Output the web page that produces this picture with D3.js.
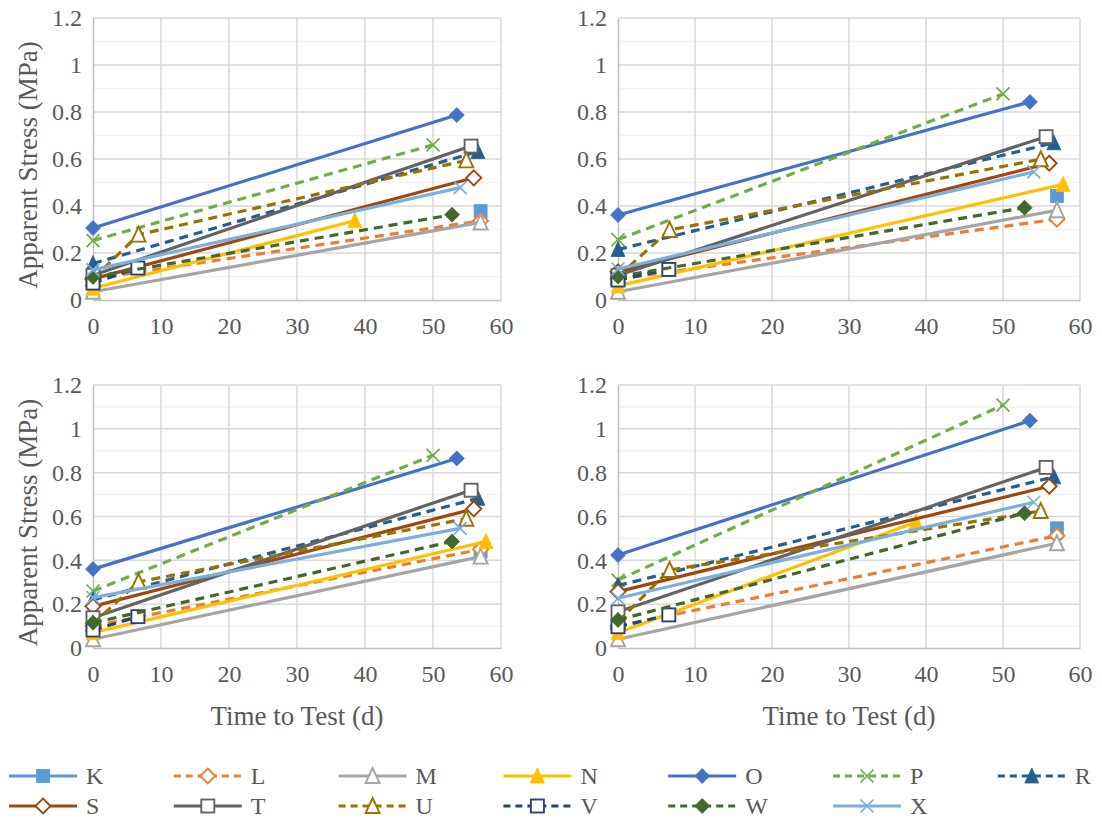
<!DOCTYPE html>
<html><head><meta charset="utf-8">
<script src="https://cdn.jsdelivr.net/npm/d3@7"></script>
<style>
html,body{margin:0;padding:0;background:#fff;}
svg{display:block;}
</style></head>
<body>
<svg id="chart" width="1102" height="820"></svg>
<script>
// ---------- DATA ----------
const seriesNames = ["K","L","M","N","O","P","R","S","T","U","V","W","X"];
const xTicks = [0,10,20,30,40,50,60];
const yTicks = [0,0.2,0.4,0.6,0.8,1,1.2];
const yTickLabels = ["0","0.2","0.4","0.6","0.8","1","1.2"];
const xTitle = "Time to Test (d)";
const yTitle = "Apparent Stress (MPa)";

// times (d) per series; values per panel [top-left, top-right, bottom-left, bottom-right]
const K_time = [57];
const K_vals = [[0.378],[0.443],[0.44],[0.546]];
const L_time = [0, 57];
const L_vals = [[0.09,0.337],[0.09,0.344],[0.10,0.45],[0.10,0.512]];
const M_time = [0, 57];
const M_vals = [[0.035,0.33],[0.035,0.382],[0.04,0.417],[0.04,0.478]];
const N_time = [[0,38.5],[0,57.8],[0,57.8],[0,38.7]];
const N_vals = [[0.05,0.337],[0.06,0.492],[0.07,0.486],[0.07,0.575]];
const O_time = [0, 53.5];
const O_vals = [[0.306,0.787],[0.362,0.843],[0.36,0.865],[0.424,1.037]];
const P_time = [0, 50];
const P_vals = [[0.253,0.66],[0.257,0.877],[0.26,0.879],[0.31,1.108]];
const R_time = [0, 56.6];
const R_vals = [[0.155,0.632],[0.215,0.669],[0.22,0.683],[0.285,0.781]];
const S_time = [0, 56];
const S_vals = [[0.09,0.52],[0.12,0.582],[0.19,0.635],[0.257,0.738]];
const T_time = [0, 55.6];
const T_vals = [[0.105,0.655],[0.105,0.695],[0.138,0.72],[0.165,0.824]];
const U_time = [0, 6.7, 54.9];
const U_vals = [[0.09,0.278,0.594],[0.10,0.298,0.599],[0.11,0.302,0.59],[0.12,0.356,0.625]];
const V_time = [0, 6.6];
const V_vals = [[0.072,0.136],[0.085,0.13],[0.082,0.143],[0.097,0.151]];
const W_time = [0, 52.8];
const W_vals = [[0.098,0.363],[0.10,0.393],[0.115,0.486],[0.128,0.615]];
const X_time = [0, 54];
const X_vals = [[0.128,0.478],[0.132,0.545],[0.23,0.546],[0.227,0.665]];

// ---------- STYLE ----------
const FONT = "'Liberation Serif','Times New Roman',serif";
const TXT = "#595959";
const colors = {K:"#5B9BD5",L:"#ED7D31",M:"#A5A5A5",N:"#FFC000",O:"#4472C4",P:"#70AD47",R:"#255E91",
  S:"#9E480E",T:"#636363",U:"#997300",V:"#264478",W:"#43682B",X:"#7CAFDD"};
const dashed = {K:false,L:true,M:false,N:false,O:false,P:true,R:true,S:false,T:false,U:true,V:true,W:true,X:false};
const markers = {K:"square",L:"diamondOpen",M:"triangleOpen",N:"triangle",O:"diamond",P:"x",R:"triangle",
  S:"diamondOpen",T:"squareOpen",U:"triangleOpen",V:"squareOpen",W:"diamond",X:"x"};

const timesByName = {K:K_time,L:L_time,M:M_time,N:N_time,O:O_time,P:P_time,R:R_time,S:S_time,T:T_time,U:U_time,V:V_time,W:W_time,X:X_time};
const valsByName = {K:K_vals,L:L_vals,M:M_vals,N:N_vals,O:O_vals,P:P_vals,R:R_vals,S:S_vals,T:T_vals,U:U_vals,V:V_vals,W:W_vals,X:X_vals};

function seriesPoints(name, p){
  const t = timesByName[name];
  const tt = Array.isArray(t[0]) ? t[p] : t;
  const v = valsByName[name][p];
  return tt.map((d,i)=>({t:d, v:v[i]}));
}

const svg = d3.select("#chart");

const panels = [
  {l:93, r:501, t:18, b:300, yTitle:true, xTitle:false},
  {l:618, r:1080, t:18, b:300, yTitle:false, xTitle:false},
  {l:93, r:501, t:385, b:648, yTitle:true, xTitle:true},
  {l:618, r:1080, t:385, b:648, yTitle:false, xTitle:true}
];

function styleText(sel, size){
  sel.style("font-family",FONT).style("font-size",size+"px").style("fill",TXT);
}

function drawMarker(g, type, color, x, y){
  let sel;
  if (type.startsWith("square")){
    const s = 6.5;
    sel = g.append("rect").attr("x",x-s).attr("y",y-s).attr("width",2*s).attr("height",2*s);
  } else if (type.startsWith("diamond")){
    const r = 7.5;
    sel = g.append("path").attr("d",`M${x},${y-r}L${x+r},${y}L${x},${y+r}L${x-r},${y}Z`);
  } else if (type.startsWith("triangle")){
    const r = 7;
    sel = g.append("path").attr("d",`M${x},${y-r-1}L${x+r},${y+r}L${x-r},${y+r}Z`);
  } else if (type === "x"){
    const r = 6.5;
    g.append("path").attr("d",`M${x-r},${y-r}L${x+r},${y+r}M${x-r},${y+r}L${x+r},${y-r}`)
      .attr("stroke",color).attr("stroke-width",1.7).attr("fill","none");
    return;
  }
  if (type.endsWith("Open")){
    sel.attr("fill","#fff").attr("stroke",color).attr("stroke-width",1.9);
  } else {
    sel.attr("fill",color).attr("stroke",color).attr("stroke-width",0.8);
  }
}

panels.forEach((pn, pi)=>{
  const x = d3.scaleLinear().domain([0,60]).range([pn.l, pn.r]);
  const y = d3.scaleLinear().domain([0,1.2]).range([pn.b, pn.t]);
  const g = svg.append("g");

  const minor = d3.range(0.1, 1.2, 0.2);
  g.append("g").selectAll("line").data(minor).join("line")
    .attr("x1",pn.l).attr("x2",pn.r).attr("y1",d=>y(d)).attr("y2",d=>y(d))
    .attr("stroke","#F2F2F2").attr("stroke-width",1.5);
  g.append("g").selectAll("line").data(yTicks.slice(1)).join("line")
    .attr("x1",pn.l).attr("x2",pn.r).attr("y1",d=>y(d)).attr("y2",d=>y(d))
    .attr("stroke","#D9D9D9").attr("stroke-width",1.5);
  g.append("g").selectAll("line").data(xTicks.slice(1)).join("line")
    .attr("x1",d=>x(d)).attr("x2",d=>x(d)).attr("y1",pn.t).attr("y2",pn.b)
    .attr("stroke","#D9D9D9").attr("stroke-width",1.5);

  const yAxis = d3.axisLeft(y).tickValues(yTicks).tickFormat((d,i)=>yTickLabels[i]).tickSize(0).tickPadding(11);
  const ya = g.append("g").attr("transform",`translate(${pn.l},0)`).call(yAxis);
  ya.select(".domain").attr("stroke","#BFBFBF").attr("stroke-width",1.5);
  styleText(ya.selectAll("text"), 24);

  const xAxis = d3.axisBottom(x).tickValues(xTicks).tickSize(0).tickPadding(17);
  const xa = g.append("g").attr("transform",`translate(0,${pn.b})`).call(xAxis);
  xa.select(".domain").attr("stroke","#BFBFBF").attr("stroke-width",1.5);
  styleText(xa.selectAll("text"), 24);

  if (pn.yTitle){
    const t = g.append("text").attr("transform",`translate(37,${(pn.t+pn.b)/2 + 6}) rotate(-90)`)
      .attr("text-anchor","middle").text(yTitle);
    styleText(t, 27);
  }
  if (pn.xTitle){
    const t = g.append("text").attr("x",(pn.l+pn.r)/2).attr("y",pn.b+77)
      .attr("text-anchor","middle").text(xTitle);
    styleText(t, 27);
  }

  const line = d3.line().x(d=>x(d.t)).y(d=>y(d.v));
  seriesNames.forEach(name=>{
    const pts = seriesPoints(name, pi);
    const sg = g.append("g");
    if (pts.length > 1){
      sg.append("path").attr("d",line(pts)).attr("fill","none")
        .attr("stroke",colors[name]).attr("stroke-width",3.2)
        .attr("stroke-dasharray",dashed[name] ? "9,6" : null)
        .attr("stroke-linejoin","round");
    }
    pts.forEach(p=>drawMarker(sg, markers[name], colors[name], x(p.t), y(p.v)));
  });
});

// ---------- LEGEND ----------
const legendX0 = 9, legendStep = 164.8, legendRows = [776, 806];
seriesNames.forEach((name,i)=>{
  const row = Math.floor(i/7), col = i%7;
  const lx = legendX0 + col*legendStep, ly = legendRows[row];
  const lg = svg.append("g");
  lg.append("line").attr("x1",lx).attr("x2",lx+68).attr("y1",ly).attr("y2",ly)
    .attr("stroke",colors[name]).attr("stroke-width",3.2)
    .attr("stroke-dasharray",dashed[name] ? "7,5" : null);
  drawMarker(lg, markers[name], colors[name], lx+34, ly);
  const t = lg.append("text").attr("x",lx+77).attr("y",ly+8).text(name);
  styleText(t, 24);
});
</script>
</body></html>
